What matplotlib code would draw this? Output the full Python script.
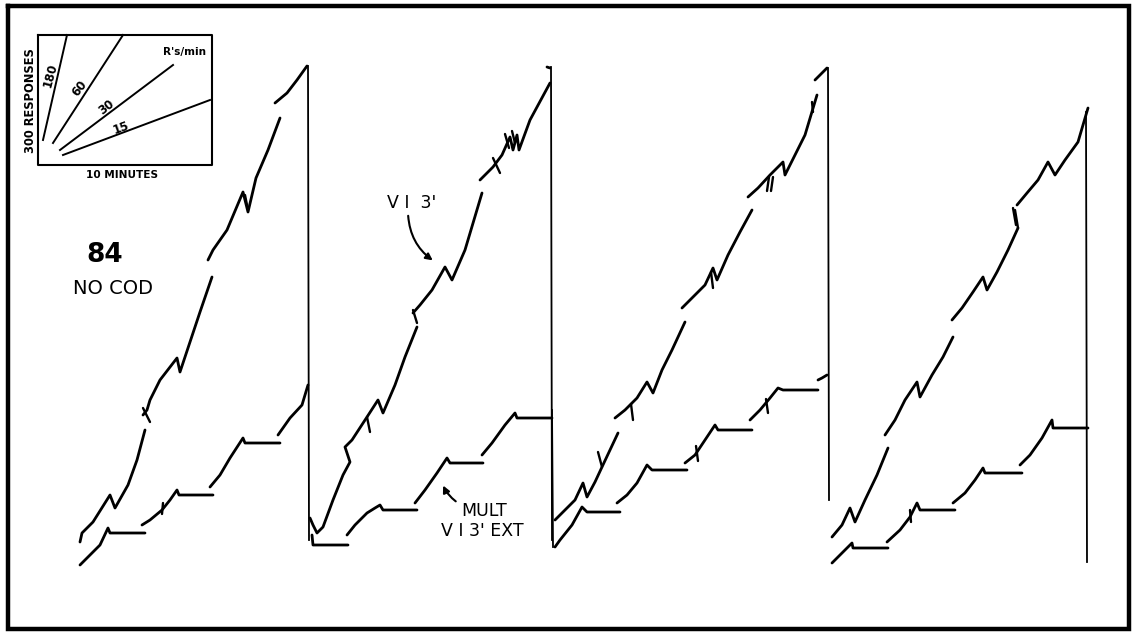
import numpy as np
import matplotlib
matplotlib.use("Agg")
import matplotlib.pyplot as plt

N = np.nan
# ---- cumulative records (chart coordinates, y grows downward) ----
# Panel 1, VI 3' (upper) record
up1_x = [80, 82, 93, 110, 115, 128, 137, 145, N,
         143, 147, 150, 160, 177, 180, 188, 200, 212, N,
         208, 213, 227, 243, 248, 256, 268, 280, N,
         275, 287, 297, 307]
up1_y = [542, 533, 522, 495, 508, 485, 460, 430, N,
         415, 410, 400, 380, 358, 372, 348, 312, 277, N,
         260, 250, 230, 192, 212, 178, 150, 118, N,
         103, 93, 80, 66]
# Panel 1, MULT VI 3' EXT (lower) record
lo1_x = [80, 90, 100, 108, 110, 145, N,
         142, 150, 162, 170, 177, 179, 213, N,
         210, 220, 230, 243, 245, 280, N,
         278, 290, 302, 308]
lo1_y = [565, 555, 545, 528, 533, 533, N,
         525, 520, 510, 500, 490, 495, 495, N,
         487, 475, 458, 438, 443, 443, N,
         435, 418, 405, 385]

up2_x = [310, 313, 317, 323, 333, 343, 350, 345, 352, 367, 378, 383, 395, 405, 417, N,
         413, 420, 432, 445, 452, 465, 482, N,
         480, 493, 502, 510, 513, 517, 519, 530, 550, N,
         547, 550]
up2_y = [518, 525, 533, 527, 500, 475, 462, 447, 440, 417, 400, 413, 385, 357, 327, N,
         313, 305, 290, 267, 280, 250, 193, N,
         180, 167, 155, 137, 150, 135, 150, 120, 83, N,
         67, 68]
lo2_x = [312, 313, 348, N,
         347, 355, 367, 375, 380, 383, 417, N,
         415, 425, 437, 447, 450, 483, N,
         482, 492, 505, 515, 517, 552]
lo2_y = [535, 545, 545, N,
         535, 525, 513, 508, 505, 510, 510, N,
         503, 490, 473, 458, 463, 463, N,
         455, 443, 425, 413, 418, 418]

up3_x = [555, 565, 575, 583, 587, 595, 602, 610, 618, N,
         615, 625, 637, 647, 653, 662, 672, 685, N,
         682, 692, 705, 713, 717, 728, 740, 752, N,
         748, 758, 770, 783, 785, 795, 805, 817, N,
         815, 820, 827]
up3_y = [520, 510, 500, 483, 497, 482, 467, 450, 433, N,
         418, 410, 398, 382, 393, 370, 350, 322, N,
         308, 298, 285, 268, 280, 255, 232, 210, N,
         197, 188, 175, 162, 175, 155, 135, 95, N,
         80, 75, 68]
lo3_x = [555, 560, 572, 582, 587, 620, N,
         617, 627, 637, 647, 652, 687, N,
         685, 695, 705, 715, 718, 752, N,
         750, 760, 770, 778, 783, 818, N,
         818, 822, 827]
lo3_y = [547, 540, 525, 507, 512, 512, N,
         503, 495, 483, 465, 470, 470, N,
         463, 455, 440, 425, 430, 430, N,
         420, 410, 398, 388, 390, 390, N,
         380, 378, 375]

up4_x = [832, 842, 850, 855, 865, 877, 888, N,
         885, 895, 905, 917, 920, 932, 943, 953, N,
         952, 962, 973, 983, 987, 997, 1008, 1018, N,
         1017, 1027, 1038, 1048, 1055, 1065, 1078, 1088]
up4_y = [537, 525, 508, 522, 500, 475, 448, N,
         435, 420, 400, 382, 397, 375, 357, 337, N,
         320, 308, 292, 277, 290, 272, 250, 228, N,
         205, 193, 180, 162, 175, 160, 142, 108]
lo4_x = [832, 840, 852, 853, 888, N,
         887, 900, 910, 917, 920, 955, N,
         953, 965, 975, 983, 985, 1022, N,
         1020, 1030, 1042, 1052, 1053, 1088]
lo4_y = [563, 555, 543, 548, 548, N,
         542, 530, 517, 503, 510, 510, N,
         503, 493, 480, 468, 473, 473, N,
         465, 455, 438, 420, 428, 428]

# pen resets (vertical lines): x, y_top, y_bottom
reset_x = [308, 551, 552, 828, 1086]
reset_top = [66, 67, 410, 68, 112]
reset_bot = [540, 540, 547, 500, 562]

# short slash marks (pips on the records)
pip_x0 = [143, 163, 245, 367, 413, 598, 631, 1015, 1013, 812, 696, 910, 766, 769, 773, 505, 512, 711, 493]
pip_y0 = [408, 503, 195, 417, 310, 452, 404, 210, 208, 102, 446, 510, 399, 177, 177, 134, 131, 272, 158]
pip_x1 = [150, 162, 247, 370, 417, 602, 633, 1018, 1016, 813, 698, 911, 768, 767, 771, 509, 515, 713, 500]
pip_y1 = [422, 514, 205, 432, 323, 467, 420, 228, 225, 112, 461, 522, 413, 191, 191, 148, 143, 288, 173]

# inset: rate lines (R's/min)
rate_labels = ["180", "60", "30", "15"]
rate_x0 = [43, 53, 60, 63]
rate_y0 = [140, 143, 150, 155]
rate_x1 = [67, 123, 173, 210]
rate_y1 = [35, 35, 65, 100]
rate_lx = [50, 80, 106, 121]
rate_ly = [75, 88, 107, 128]
rate_rot = [75, 52, 38, 20]

fig = plt.figure(figsize=(11.39, 6.34), dpi=100)
ax = fig.add_axes([0, 0, 1, 1])
ax.set_xlim(0, 1139)
ax.set_ylim(634, 0)
ax.axis("off")

ink = "black"
lw = 2.0
for xs, ys in [(up1_x, up1_y), (lo1_x, lo1_y), (up2_x, up2_y), (lo2_x, lo2_y),
               (up3_x, up3_y), (lo3_x, lo3_y), (up4_x, up4_y), (lo4_x, lo4_y)]:
    ax.plot(xs, ys, color=ink, lw=lw, solid_capstyle="round", solid_joinstyle="round")

for x, t, b in zip(reset_x, reset_top, reset_bot):
    ax.plot([x, x + 1], [t, b], color=ink, lw=1.3)

for a, b, c, d in zip(pip_x0, pip_y0, pip_x1, pip_y1):
    ax.plot([a, c], [b, d], color=ink, lw=1.7, solid_capstyle="round")

# outer frame
ax.plot([8, 1129, 1129, 8, 8], [6, 6, 629, 629, 6], color=ink, lw=3.2,
        solid_joinstyle="miter")

# inset box
ax.plot([38, 212, 212, 38, 38], [35, 35, 165, 165, 35], color=ink, lw=1.5)
for x0, y0, x1, y1 in zip(rate_x0, rate_y0, rate_x1, rate_y1):
    ax.plot([x0, x1], [y0, y1], color=ink, lw=1.4)
for lab, x, y, r in zip(rate_labels, rate_lx, rate_ly, rate_rot):
    ax.text(x, y, lab, rotation=r, ha="center", va="center", fontsize=8.5,
            fontweight="bold", family="DejaVu Sans")
ax.text(184, 52, "R's/min", ha="center", va="center", fontsize=7.5,
        fontweight="bold", family="DejaVu Sans")
ax.text(31, 101, "300 RESPONSES", rotation=90, ha="center", va="center",
        fontsize=8.3, fontweight="bold", family="DejaVu Sans")
ax.text(122, 175, "10 MINUTES", ha="center", va="center", fontsize=7.6,
        fontweight="bold", family="DejaVu Sans")

# labels
ax.text(105, 255, "84", ha="center", va="center", fontsize=19, fontweight="bold",
        family="DejaVu Sans")
ax.text(113, 288, "NO COD", ha="center", va="center", fontsize=14,
        family="DejaVu Sans")
ax.text(412, 203, "V I  3'", ha="center", va="center", fontsize=12.5,
        family="DejaVu Sans")
ax.annotate("", xy=(435, 262), xytext=(408, 213),
            arrowprops=dict(arrowstyle="-|>", color=ink, lw=1.5,
                            connectionstyle="arc3,rad=0.25", mutation_scale=10))
ax.text(484, 511, "MULT", ha="center", va="center", fontsize=12.5,
        family="DejaVu Sans")
ax.text(482, 531, "V I 3' EXT", ha="center", va="center", fontsize=12.5,
        family="DejaVu Sans")
ax.annotate("", xy=(442, 483), xytext=(458, 503),
            arrowprops=dict(arrowstyle="-|>", color=ink, lw=1.5,
                            connectionstyle="arc3,rad=-0.15", mutation_scale=10))

fig.savefig("out.png", dpi=100)
